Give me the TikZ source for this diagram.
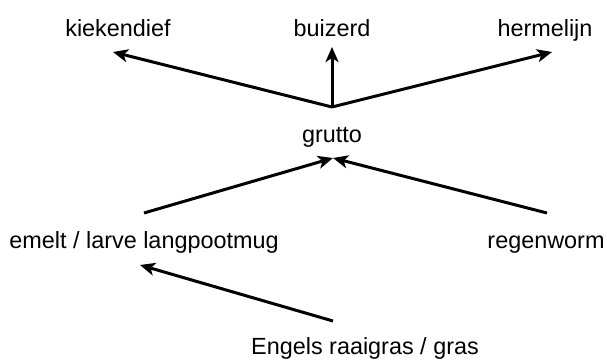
\documentclass[tikz,border=0pt]{standalone}
\usepackage{fontspec}
\setmainfont{Liberation Sans}
\usetikzlibrary{arrows.meta}
\begin{document}
\begin{tikzpicture}[x=1pt,y=-1pt,
  lbl/.style={inner sep=0pt,anchor=base,font=\fontsize{23.4}{28}\selectfont},
  link/.style={line width=3pt,-{Stealth[length=15pt,width=13pt,inset=4pt]}}]
\useasboundingbox (0,0) rectangle (607,359);
\node[lbl] (kiek) at (118,36) {kiekendief};
\node[lbl] (buiz) at (332,36) {buizerd};
\node[lbl] (herm) at (545,36) {hermelijn};
\node[lbl] (grut) at (332,142) {grutto};
\node[lbl] (emel) at (144,248) {emelt / larve langpootmug};
\node[lbl] (rege) at (546,248) {regenworm};
\node[lbl] (enge) at (365,354) {Engels raaigras / gras};
\coordinate (gtop) at (332,107);
\coordinate (kiekT) at (113,52);
\coordinate (buizT) at (332,47);
\coordinate (hermT) at (552,52);
\coordinate (gbot) at (333,158);
\coordinate (emelS) at (144,213);
\coordinate (regeS) at (547,213);
\coordinate (emelT) at (140,265);
\coordinate (engeS) at (333,321);
\draw[link] (gtop) -- (kiekT);
\draw[link] (gtop) -- (buizT);
\draw[link] (gtop) -- (hermT);
\draw[link] (emelS) -- (gbot);
\draw[link] (regeS) -- (gbot);
\draw[link] (engeS) -- (emelT);
\end{tikzpicture}
\end{document}
